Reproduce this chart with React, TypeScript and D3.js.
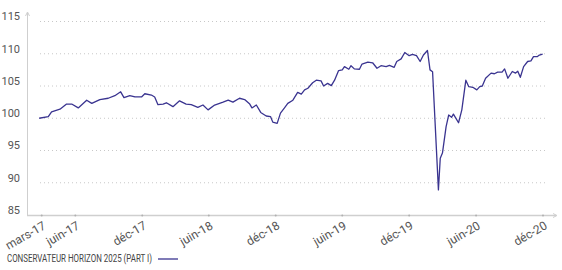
import React from "react";
import * as d3 from "d3";

const seriesName = "CONSERVATEUR HORIZON 2025 (PART I)";
const dates: string[] = [
  "2017-02-22","2017-03-19","2017-03-28","2017-04-20","2017-05-08","2017-05-22","2017-06-09","2017-07-02","2017-07-16","2017-08-07",
  "2017-08-30","2017-09-17","2017-10-03","2017-10-12","2017-10-28","2017-11-11","2017-11-29","2017-12-08","2017-12-26","2018-01-04",
  "2018-01-13","2018-01-27","2018-02-05","2018-02-23","2018-03-13","2018-03-31","2018-04-14","2018-05-02","2018-05-16","2018-05-30",
  "2018-06-17","2018-07-10","2018-07-24","2018-08-06","2018-08-24","2018-09-07","2018-09-21","2018-09-27","2018-10-09","2018-10-21",
  "2018-11-05","2018-11-17","2018-11-23","2018-12-05","2018-12-14","2018-12-25","2019-01-03","2019-01-17","2019-01-30","2019-02-09",
  "2019-02-18","2019-02-27","2019-03-12","2019-03-22","2019-04-04","2019-04-11","2019-04-22","2019-05-02","2019-05-11","2019-05-22",
  "2019-06-01","2019-06-07","2019-06-19","2019-06-25","2019-07-04","2019-07-18","2019-07-25","2019-08-10","2019-08-23","2019-09-04",
  "2019-09-15","2019-09-29","2019-10-08","2019-10-21","2019-10-28","2019-11-09","2019-11-19","2019-12-01","2019-12-10","2019-12-21",
  "2019-12-31","2020-01-09","2020-01-20","2020-01-27","2020-02-03","2020-02-19","2020-02-24","2020-03-01","2020-03-11","2020-03-18",
  "2020-03-26","2020-03-31","2020-04-14","2020-04-23","2020-05-04","2020-05-12","2020-05-23","2020-06-03","2020-06-11","2020-06-18",
  "2020-06-27","2020-07-12","2020-07-21","2020-07-30","2020-08-11","2020-08-18","2020-08-27","2020-09-08","2020-09-17","2020-09-23",
  "2020-09-30","2020-10-09","2020-10-20","2020-10-29","2020-11-05","2020-11-15","2020-11-21","2020-11-30"
];
const values: number[] = [
  100.0,100.25,101.0,101.4,102.2,102.2,101.6,102.8,102.3,102.9,
  103.1,103.5,104.1,103.2,103.5,103.3,103.3,103.8,103.6,103.3,
  102.1,102.2,102.4,101.8,102.7,102.2,102.1,101.7,102.05,101.3,
  102.05,102.5,102.8,102.5,103.1,102.9,102.2,101.6,102.05,100.9,
  100.35,100.25,99.4,99.2,100.8,101.6,102.3,102.8,104.0,103.75,
  104.4,104.65,105.5,105.9,105.8,105.0,105.4,105.05,105.9,107.4,
  107.5,108.0,107.6,108.15,107.65,107.6,108.4,108.7,108.6,107.75,
  108.15,108.0,108.2,107.9,108.8,109.2,110.2,109.7,109.9,109.7,
  108.8,109.8,110.5,107.5,107.2,88.9,93.8,94.6,98.7,100.5,
  100.15,100.65,99.3,101.3,105.9,104.9,104.8,104.4,104.9,105.0,
  106.2,107.0,106.9,107.15,107.15,107.65,106.2,107.25,107.0,107.3,
  106.35,108.0,108.8,108.9,109.55,109.55,109.8,109.95
];
const yTicks: number[] = [85, 90, 95, 100, 105, 110, 115];
const xTickDates: string[] = ["2017-03-01","2017-06-01","2017-12-01","2018-06-01","2018-12-01","2019-06-01","2019-12-01","2020-06-01","2020-12-01"];
const xTickLabels: string[] = ["mars-17","juin-17","déc-17","juin-18","déc-18","juin-19","déc-19","juin-20","déc-20"];

export default function App() {
  const W = 562, H = 270;
  const parse = d3.utcParse("%Y-%m-%d");
  const x = d3.scaleUtc().domain([parse("2017-03-01")!, parse("2020-12-01")!]).range([41.7, 543]);
  const y = d3.scaleLinear().domain([85, 115]).range([215, 21.5]);
  const data = dates.map((d, i) => ({ d: parse(d)!, v: values[i] }));
  const line = d3.line<{ d: Date; v: number }>().x(p => x(p.d)).y(p => y(p.v));
  const font = "'Liberation Sans Narrow', 'Roboto', sans-serif";
  const axisColor = "#cfcfcf";
  const textColor = "#555";
  return (
    <svg width={W} height={H} style={{ position: "absolute", left: 0, top: 0 }}>
      {yTicks.filter(t => t !== 85).map(t => (
        <line key={"g" + t} x1={40} x2={548} y1={y(t)} y2={y(t)} stroke="#c8c8c8" strokeDasharray="1,3" strokeWidth={1} />
      ))}
      <line x1={27.5} x2={27.5} y1={215} y2={13} stroke={axisColor} strokeWidth={1} />
      <path d="M25.5,16 L27.5,12 L29.5,16" fill="none" stroke={axisColor} strokeWidth={1} />
      <line x1={27} x2={556} y1={215.5} y2={215.5} stroke={axisColor} strokeWidth={1.5} />
      <path d="M553,213.5 L557,215.5 L553,217.5" fill="none" stroke={axisColor} strokeWidth={1} />
      {yTicks.map(t => (
        <text key={"y" + t} x={20} y={y(t) - 4} textAnchor="end" dominantBaseline="middle" fontFamily="Roboto, sans-serif" fontSize={11} fill={textColor}>{t}</text>
      ))}
      {xTickDates.map((d, i) => {
        const tx = x(parse(d)!);
        return (
          <g key={"x" + d}>
            <circle cx={tx} cy={215.5} r={1} fill="#b0b0b0" />
            <text transform={`translate(${tx + 5},${228}) rotate(-30)`} textAnchor="end" fontFamily={font} fontSize={12} fill={textColor}>{xTickLabels[i]}</text>
          </g>
        );
      })}
      <path d={line(data) || ""} fill="none" stroke="#3a3490" strokeWidth={1.3} strokeLinejoin="round" />
      <text x={7} y={262} fontFamily={font} fontSize={10} fill="#444" textLength={145} lengthAdjust="spacingAndGlyphs">{seriesName}</text>
      <line x1={158} x2={178} y1={259} y2={259} stroke="#3a3490" strokeWidth={1.3} />
    </svg>
  );
}
